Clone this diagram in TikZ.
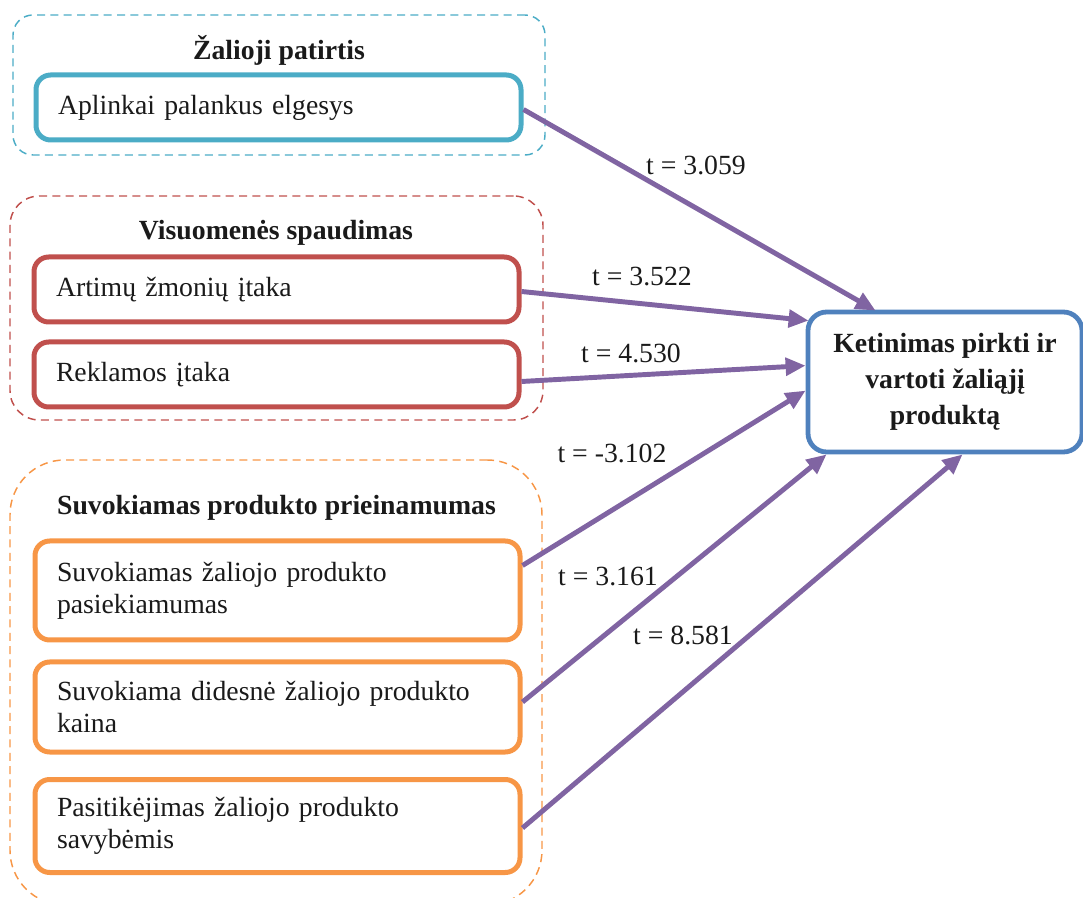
\documentclass[tikz,border=0pt]{standalone}
\usepackage{fontspec}
\setmainfont{Liberation Serif}
\usetikzlibrary{arrows.meta,calc}
\newdimen\pxu \pxu=0.75pt
\definecolor{ccyan}{HTML}{4BACC6}
\definecolor{cred}{HTML}{C0504D}
\definecolor{corange}{HTML}{F79646}
\definecolor{cblue}{HTML}{4F81BD}
\definecolor{cpurple}{HTML}{8064A2}
\definecolor{ctext}{HTML}{1A1A1A}
\begin{document}
\begin{tikzpicture}[x=0.75pt,y=-0.75pt,
  every node/.style={font=\fontsize{20.8pt}{24pt}\selectfont, text=ctext},
  grp/.style={draw, line width=1.1pt, dash pattern=on 6pt off 4pt, rectangle, inner sep=0pt},
  ttl/.style={font=\fontsize{20.8pt}{24pt}\selectfont\bfseries, inner sep=0pt},
  itembox/.style={draw, fill=white, line width=3.75pt, rounded corners=11pt, rectangle,
    text width=441\pxu, align=left, inner xsep=22\pxu, inner ysep=0pt},
  tgt/.style={draw=cblue, fill=white, line width=3.6pt, rounded corners=14pt, rectangle,
    minimum width=274\pxu, minimum height=140\pxu, align=center, inner sep=0pt,
    font=\fontsize{20.8pt}{27pt}\selectfont\bfseries},
  conn/.style={draw=cpurple, line width=3.7pt, -{Triangle[length=15pt,width=13pt]}},
  tlab/.style={inner sep=0pt}
]
\useasboundingbox (0,0) rectangle (1083,898);

% groups
\node[grp, draw=ccyan, rounded corners=15pt, minimum width=532\pxu, minimum height=140\pxu] (G1) at (279,85) {};
\node[grp, draw=cred, rounded corners=22pt, minimum width=533\pxu, minimum height=224\pxu] (G2) at (276.5,308) {};
\node[grp, draw=corange, rounded corners=41pt, minimum width=532\pxu, minimum height=445\pxu] (G3) at (276,682.5) {};

% titles
\node[ttl] (T1) at (279,50) {Žalioji patirtis};
\node[ttl] (T2) at (276,233) {Visuomenės spaudimas};
\node[ttl] (T3) at (276.5,508) {Suvokiamas produkto prieinamumas};

% item boxes
\node[itembox, draw=ccyan, minimum height=65\pxu] (A) at (278.5,107.5) {Aplinkai palankus elgesys};
\node[itembox, draw=cred, minimum height=65\pxu] (B) at (276.5,289.5) {Artimų žmonių įtaka};
\node[itembox, draw=cred, minimum height=65\pxu] (C) at (276.5,374.5) {Reklamos įtaka};
\node[itembox, draw=corange, minimum height=99\pxu] (D) at (277.5,590.5) {Suvokiamas žaliojo produkto\\pasiekiamumas};
\node[itembox, draw=corange, minimum height=90\pxu] (E) at (277.5,707) {Suvokiama didesnė žaliojo produkto\\kaina};
\node[itembox, draw=corange, minimum height=93\pxu] (F) at (277.5,826) {Pasitikėjimas žaliojo produkto\\savybėmis};

% target
\node[tgt] (T) at (945,382) {Ketinimas pirkti ir\\vartoti žaliąjį\\produktą};

% arrow end points on the target border
\coordinate (e1) at ($(T.north west)+(70,1)$);
\coordinate (e2) at ($(T.north west)+(3,11)$);
\coordinate (e3) at ($(T.north west)+(0,56)$);
\coordinate (e4) at ($(T.north west)+(0,81)$);
\coordinate (e5) at ($(T.south west)+(21,0)$);
\coordinate (e6) at ($(T.south west)+(157,0)$);

% connectors
\draw[conn] ([yshift=-2\pxu]A.east) -- (e1);
\draw[conn] ([yshift=-2\pxu]B.east) -- (e2);
\draw[conn] ([yshift=-7\pxu]C.east) -- (e3);
\draw[conn] ([yshift=25\pxu]D.east) -- (e4);
\draw[conn] ([yshift=5\pxu]E.east) -- (e5);
\draw[conn] ([yshift=-2\pxu]F.east) -- (e6);

% labels
\node[tlab] (L1) at (696,165) {t = 3.059};
\node[tlab] (L2) at (642,277) {t = 3.522};
\node[tlab] (L3) at (631,353) {t = 4.530};
\node[tlab] (L4) at (612,453) {t = -3.102};
\node[tlab] (L5) at (608,577) {t = 3.161};
\node[tlab] (L6) at (683,635) {t = 8.581};
\end{tikzpicture}
\end{document}
